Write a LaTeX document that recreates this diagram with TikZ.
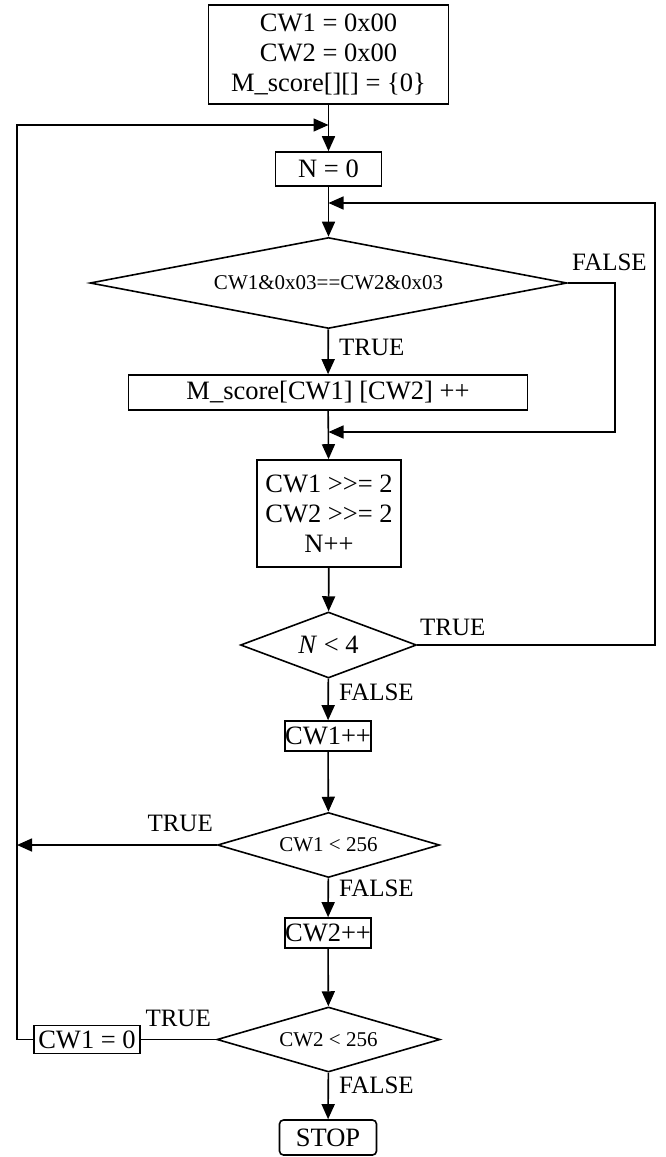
\documentclass[tikz,border=0pt]{standalone}
\usepackage{fontspec}
\setmainfont{Liberation Serif}
\usetikzlibrary{shapes.geometric,arrows.meta}
\newcommand\bigtxt{\fontsize{26.5}{30}\selectfont}
\newcommand\labtxt{\fontsize{25}{30}\selectfont}
\newcommand\smalltxt{\fontsize{21}{25}\selectfont}
\tikzset{
  box/.style={draw, line width=1.6pt, inner sep=0pt, font=\bigtxt, align=center},
  decision/.style={draw, diamond, line width=1.6pt, inner sep=0pt},
  arr/.style={line width=1.6pt, -{Triangle[length=15pt,width=13pt]}},
  ln/.style={line width=1.6pt},
  lab/.style={font=\labtxt, inner sep=0pt},
}
\begin{document}
\begin{tikzpicture}[x=1pt,y=-1pt]
\useasboundingbox (0,0) rectangle (665,1157);

% process boxes and decisions
\node[box, minimum width=240pt, minimum height=99pt] (init) at (328.5,54.5)
  {CW1 = 0x00\\CW2 = 0x00\\M\_score[][] = \{0\}};
\node[box, minimum width=106pt, minimum height=34pt] (n0) at (328.5,169) {N = 0};
\node[decision, aspect=5.24, minimum width=477pt, minimum height=91pt, font=\smalltxt] (d1) at (328.5,283)
  {CW1\&0x03==CW2\&0x03};
\node[box, minimum width=399pt, minimum height=35pt] (inc) at (328,392.5)
  {M\_score[CW1] [CW2] ++};
\node[box, minimum width=144pt, minimum height=107pt] (shift) at (329,513.5)
  {CW1 >\kern0pt>= 2\\CW2 >\kern0pt>= 2\\N++};
\node[decision, aspect=2.67, minimum width=176pt, minimum height=66pt, font=\bigtxt] (d2) at (328.5,645)
  {\textit{N} < 4};
\node[box, minimum width=81pt, minimum height=30pt] (c1) at (328,736) {CW1++};
\node[decision, aspect=3.42, minimum width=222pt, minimum height=65pt, font=\smalltxt] (d3) at (328.5,845)
  {CW1 < 256};
\node[box, minimum width=81pt, minimum height=30pt] (c2) at (328,933) {CW2++};
\node[decision, aspect=3.42, minimum width=223pt, minimum height=65pt, font=\smalltxt] (d4) at (328.5,1039.5)
  {CW2 < 256};
\node[box, minimum width=106pt, minimum height=28pt] (z1) at (87,1039.5) {CW1 = 0};
\node[box, rounded corners=4pt, minimum width=97pt, minimum height=35pt] (stop) at (328,1137.5) {STOP};

% junction points
\coordinate (jt) at (328.5,125);
\coordinate (lt) at (17,125);
\coordinate (lm) at (17,845);
\coordinate (jr) at (328.5,203);
\coordinate (rt) at (655,203);
\coordinate (jm) at (328.5,432);
\coordinate (fb) at (615,432);

% main flow
\draw[arr] (init) -- (n0);
\draw[arr] (n0) -- (d1);
\draw[arr] (d1) -- (inc);
\draw[arr] (inc) -- (shift);
\draw[arr] (shift) -- (d2);
\draw[arr] (d2) -- (c1);
\draw[arr] (c1) -- (d3);
\draw[arr] (d3) -- (c2);
\draw[arr] (c2) -- (d4);
\draw[arr] (d4) -- (stop);

% loops
\draw[arr] (d1.east) -| (fb) -- (jm);
\draw[arr] (d2.east) -| (rt) -- (jr);
\draw[arr] (d3.west) -- (lm);
\draw[ln] (d4.west) -- (z1.east);
\draw[arr] (z1.west) -| (lt) -- (jt);

% branch labels
\node[lab, anchor=west] at (572,262) {FALSE};
\node[lab, anchor=west] at (339,347) {TRUE};
\node[lab, anchor=west] at (420,627) {TRUE};
\node[lab, anchor=west] at (339,692) {FALSE};
\node[lab, anchor=east] at (213,823) {TRUE};
\node[lab, anchor=west] at (339,888) {FALSE};
\node[lab, anchor=east] at (211,1018) {TRUE};
\node[lab, anchor=west] at (339,1085) {FALSE};
\end{tikzpicture}
\end{document}
